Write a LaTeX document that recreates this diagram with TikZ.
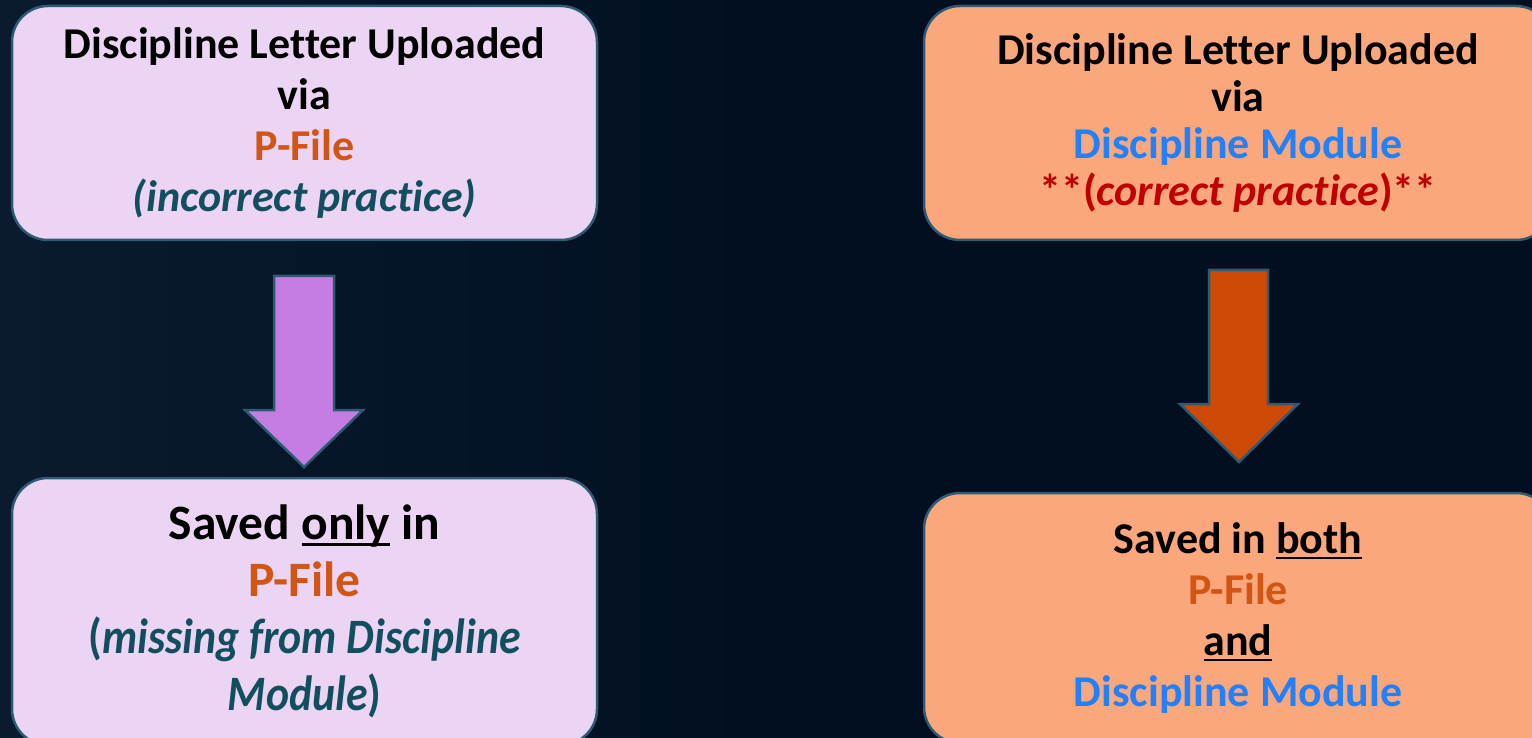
\documentclass[tikz,border=0pt]{standalone}
\usepackage{fontspec}
\usepackage{graphicx}
\setmainfont{Carlito}[Ligatures=NoCommon]
\definecolor{bg}{HTML}{010F20}
\definecolor{bgl}{HTML}{0A1B30}
\definecolor{edge}{HTML}{2C5B73}
\definecolor{lilac}{HTML}{ECD4F4}
\definecolor{salmon}{HTML}{FBA77C}
\definecolor{purplearrow}{HTML}{C57DE3}
\definecolor{orangearrow}{HTML}{CC4A06}
\definecolor{pfile}{HTML}{D25513}
\definecolor{modblue}{HTML}{2180FA}
\definecolor{tealtxt}{HTML}{124F5E}
\definecolor{redtxt}{HTML}{C00000}
\newsavebox\myulbox
\newcommand\myul[1]{\sbox\myulbox{#1}\rlap{\rule[-6pt]{\wd\myulbox}{2.6pt}}\usebox\myulbox}
\tikzset{
  box/.style={draw=edge, line width=2.5pt, rounded corners=36pt, align=center,
    inner sep=0pt, text=black},
  blockarrow/.style={draw=edge, line width=2.5pt, line join=miter},
  fa/.style={font={\fontsize{44}{51}\selectfont\bfseries}},
  fb/.style={font={\fontsize{44}{47}\selectfont\bfseries}},
  fc/.style={font={\fontsize{49.5}{57}\selectfont\bfseries}}
}
\begin{document}
\begin{tikzpicture}[x=1pt,y=-1pt]
\useasboundingbox (0,0) rectangle (1532,738);
\clip (0,0) rectangle (1532,738);
\shade[left color=bgl, right color=bg, middle color=bg] (0,0) rectangle (1532,738);

% top-left box
\node[box, fa, fill=lilac, minimum width=585pt, minimum height=234pt] (tl) at (304.5,123)
  {Discipline Letter Uploaded\\ via\\ \textcolor{pfile}{P-File}\\ \textcolor{tealtxt}{\itshape (incorrect practice)}};

% top-right box
\node[box, fb, fill=salmon, minimum width=628pt, minimum height=234pt] (tr) at (1238,123)
  {Discipline Letter Uploaded\\ via\\ \textcolor{modblue}{Discipline Module}\\ \textcolor{redtxt}{**(\textit{correct practice})**}};

% bottom-left box
\node[box, fc, fill=lilac, minimum width=585pt, minimum height=267pt] (bl) at (304.5,611.5)
  {Saved \myul{only} in\\ \textcolor{pfile}{P-File}\\ \textcolor{tealtxt}{\scalebox{0.885}[1]{(\textit{missing from Discipline}}}\\ \textcolor{tealtxt}{\scalebox{0.885}[1]{\textit{Module})}}};

% bottom-right box
\node[box, fa, fill=salmon, minimum width=628pt, minimum height=250pt] (br) at (1238,618)
  {Saved in \myul{both}\\ \textcolor{pfile}{P-File}\\ \myul{and}\\ \textcolor{modblue}{Discipline Module}};

% block arrows
\coordinate (ltip) at (304,467);
\coordinate (rtip) at (1239,462);
\draw[blockarrow, fill=purplearrow] (274,276) -- (334,276) -- (334,410) -- (363,410) -- (ltip) -- (245,410) -- (274,410) -- cycle;
\draw[blockarrow, fill=orangearrow] (1209,270) -- (1268,270) -- (1268,404) -- (1298,404) -- (rtip) -- (1180,404) -- (1209,404) -- cycle;
\end{tikzpicture}
\end{document}
